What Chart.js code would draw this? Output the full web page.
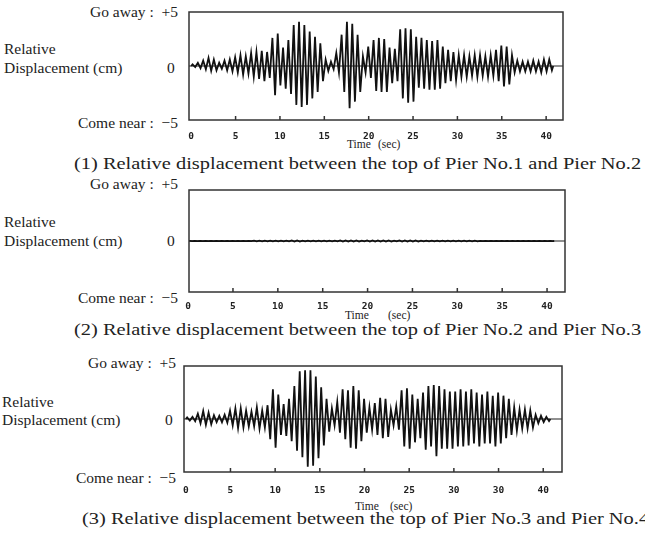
<!DOCTYPE html>
<html>
<head>
<meta charset="utf-8">
<script src="https://cdn.jsdelivr.net/npm/chart.js@4/dist/chart.umd.min.js"></script>
<style>
  body { margin: 0; background: #fff; }
  #page { position: relative; width: 645px; height: 536px; overflow: hidden; font-family: 'Liberation Serif', 'Times New Roman', serif; color: #222; }
  .lbl { position: absolute; white-space: pre; line-height: 1; font-size: 15.5px; }
  .r { text-align: right; }
  .time { font-size: 11.5px; }
  .cap { font-size: 17px; transform: scaleX(1.2); transform-origin: left center; }
  .box { position: absolute; }
</style>
</head>
<body>
<div id="page">
  <!-- panel 1 -->
  <div class="lbl r" style="right:467px; top:4px;">Go away :  +5</div>
  <div class="lbl" style="left:4px; top:41px;">Relative</div>
  <div class="lbl" style="left:4px; top:60px;">Displacement (cm)</div>
  <div class="lbl" style="left:167px; top:60px;">0</div>
  <div class="lbl r" style="right:467px; top:115px;">Come near :  −5</div>
  <div class="lbl time" style="left:347px; top:139px;">Time</div>
  <div class="lbl time" style="left:378px; top:139px;">(sec)</div>
  <div class="lbl cap" style="left:74px; top:155px;">(1) Relative displacement between the top of Pier No.1 and Pier No.2</div>
  <div class="box" style="left:169px; top:6px; width:414px; height:144px;"><canvas id="c1"></canvas></div>

  <!-- panel 2 -->
  <div class="lbl r" style="right:467px; top:176px;">Go away :  +5</div>
  <div class="lbl" style="left:4px; top:214px;">Relative</div>
  <div class="lbl" style="left:4px; top:233px;">Displacement (cm)</div>
  <div class="lbl" style="left:167px; top:233px;">0</div>
  <div class="lbl r" style="right:467px; top:290px;">Come near :  −5</div>
  <div class="lbl time" style="left:345px; top:310px;">Time</div>
  <div class="lbl time" style="left:388px; top:310px;">(sec)</div>
  <div class="lbl cap" style="left:74px; top:321px;">(2) Relative displacement between the top of Pier No.2 and Pier No.3</div>
  <div class="box" style="left:169px; top:184px; width:416px; height:138px;"><canvas id="c2"></canvas></div>

  <!-- panel 3 -->
  <div class="lbl r" style="right:469px; top:355px;">Go away :  +5</div>
  <div class="lbl" style="left:2px; top:394px;">Relative</div>
  <div class="lbl" style="left:2px; top:412px;">Displacement (cm)</div>
  <div class="lbl" style="left:165px; top:412px;">0</div>
  <div class="lbl r" style="right:469px; top:470px;">Come near :  −5</div>
  <div class="lbl time" style="left:355px; top:501px;">Time</div>
  <div class="lbl time" style="left:390px; top:501px;">(sec)</div>
  <div class="lbl cap" style="left:82px; top:510px;">(3) Relative displacement between the top of Pier No.3 and Pier No.4</div>
  <div class="box" style="left:164px; top:360px; width:418px; height:142px;"><canvas id="c3"></canvas></div>
</div>

<script>
// one oscillation cycle every 0.6 s; peak values per cycle (cm)
const cycleSec = 0.6;

const tickValues = [0, 5, 10, 15, 20, 25, 30, 35, 40];
const tickLabels1 = ['0', '5', '10', '15', '20', '25', '30', '35', '40'];
const tickLabels2 = ['0', '5', '10', '15', '20', '25', '30', '35', '40'];
const tickLabels3 = ['0', '5', '10', '15', '20', '25', '30', '30', '40'];

// Pier No.1 - No.2
const up1 = [0.15, 0.3, 0.5, 0.75, 0.6, 0.3, 0.5, 0.6, 0.8, 1.0, 0.9, 1.2, 1.3, 1.4, 1.3, 2.6, 3.0, 1.7, 2.4, 3.8,
  4.1, 3.8, 3.2, 2.7, 2.1, 0.6, 0.4, 1.2, 2.9, 4.1, 3.9, 2.9, 0.9, 1.8, 2.4, 2.6, 2.5, 1.7, 1.6, 3.4,
  3.5, 3.4, 2.7, 2.6, 2.4, 2.3, 2.4, 1.8, 1.5, 1.3, 1.0, 1.0, 0.9, 1.0, 1.0, 0.9, 1.0, 1.5, 1.9, 1.8,
  1.0, 0.5, 0.4, 0.4, 0.5, 0.4, 0.6, 0.6];
const down1 = [-0.1, -0.2, -0.3, -0.45, -0.4, -0.25, -0.4, -0.5, -0.6, -0.8, -0.7, -1.0, -1.2, -1.4, -1.1, -2.7, -1.8, -2.1, -2.6, -3.6,
  -3.8, -3.6, -3.0, -2.4, -1.4, -0.45, -0.3, -0.6, -2.4, -3.9, -3.3, -2.4, -0.6, -1.1, -2.3, -2.4, -2.4, -1.6, -1.4, -3.0,
  -3.4, -3.3, -2.0, -2.1, -2.2, -2.2, -2.1, -1.6, -1.4, -1.3, -1.0, -1.0, -0.9, -1.0, -0.9, -1.0, -0.9, -1.4, -1.9, -1.7,
  -0.6, -0.5, -0.5, -0.5, -0.5, -0.6, -0.5, -0.4];

// Pier No.2 - No.3 (almost flat)
const up2 = [0.01, 0.01, 0.01, 0.01, 0.01, 0.01, 0.02, 0.02, 0.02, 0.02, 0.02, 0.02, 0.03, 0.03, 0.03, 0.04, 0.04, 0.04, 0.04, 0.05,
  0.05, 0.04, 0.04, 0.04, 0.04, 0.03, 0.03, 0.04, 0.05, 0.06, 0.06, 0.05, 0.04, 0.05, 0.06, 0.06, 0.06, 0.05, 0.04, 0.05,
  0.06, 0.06, 0.05, 0.04, 0.04, 0.04, 0.03, 0.03, 0.03, 0.03, 0.03, 0.03, 0.03, 0.03, 0.02, 0.02, 0.02, 0.02, 0.02, 0.02,
  0.02, 0.02, 0.01, 0.01, 0.01, 0.01, 0.01, 0.01];
const down2 = [-0.01, -0.01, -0.01, -0.01, -0.01, -0.01, -0.02, -0.02, -0.02, -0.02, -0.02, -0.02, -0.03, -0.03, -0.03, -0.04, -0.04, -0.04, -0.04, -0.05,
  -0.05, -0.04, -0.04, -0.04, -0.04, -0.03, -0.03, -0.04, -0.05, -0.06, -0.06, -0.05, -0.04, -0.05, -0.06, -0.06, -0.06, -0.05, -0.04, -0.05,
  -0.06, -0.06, -0.05, -0.04, -0.04, -0.04, -0.03, -0.03, -0.03, -0.03, -0.03, -0.03, -0.03, -0.03, -0.02, -0.02, -0.02, -0.02, -0.02, -0.02,
  -0.02, -0.02, -0.01, -0.01, -0.01, -0.01, -0.01, -0.01];

// Pier No.3 - No.4
const up3 = [0.15, 0.2, 0.5, 0.75, 0.6, 0.35, 0.3, 0.4, 0.8, 1.0, 1.0, 0.8, 0.7, 1.1, 0.8, 1.3, 2.8, 2.3, 1.4, 1.9,
  3.1, 4.5, 4.6, 4.6, 4.0, 3.0, 1.9, 1.0, 1.6, 2.8, 2.7, 3.1, 2.7, 1.9, 1.1, 1.5, 2.0, 1.9, 0.9, 1.2,
  2.7, 2.9, 2.3, 1.9, 2.5, 3.1, 3.2, 3.1, 2.8, 2.6, 2.6, 2.8, 2.6, 2.8, 2.5, 2.3, 2.6, 2.2, 2.5, 2.2,
  1.9, 1.1, 0.9, 0.9, 0.8, 0.4, 0.3, 0.2];
const down3 = [-0.15, -0.2, -0.4, -0.55, -0.5, -0.3, -0.3, -0.35, -0.6, -0.85, -0.8, -0.7, -0.7, -0.9, -0.8, -1.9, -2.7, -1.5, -1.6, -2.1,
  -3.0, -3.6, -4.5, -4.4, -3.7, -2.5, -1.2, -0.6, -1.3, -1.9, -2.7, -2.8, -2.1, -1.3, -1.0, -1.5, -1.8, -1.7, -0.6, -1.0,
  -2.6, -2.8, -2.2, -1.8, -2.9, -2.6, -3.5, -2.8, -2.8, -2.8, -2.6, -2.6, -2.5, -2.3, -2.6, -2.3, -2.3, -2.6, -2.3, -1.8,
  -1.5, -1.1, -0.9, -0.9, -0.8, -0.4, -0.3, -0.2];

function toPoints(up, down) {
  const pts = [{ x: 0, y: 0 }];
  for (let i = 0; i < up.length; i++) {
    pts.push({ x: i * cycleSec + cycleSec / 4, y: up[i] });
    pts.push({ x: i * cycleSec + cycleSec * 3 / 4, y: down[i] });
  }
  pts.push({ x: up.length * cycleSec, y: 0 });
  return pts;
}

// frame, zero line and inward tick marks
const framePlugin = {
  id: 'frame',
  beforeDatasetsDraw(chart) {
    const { ctx, chartArea: a, scales } = chart;
    const y0 = scales.y.getPixelForValue(0);
    ctx.save();
    ctx.strokeStyle = '#222';
    ctx.lineWidth = 1.2;
    ctx.beginPath();
    ctx.moveTo(a.left, y0);
    ctx.lineTo(a.right, y0);
    ctx.stroke();
    ctx.restore();
  },
  afterDraw(chart) {
    const { ctx, chartArea: a, scales } = chart;
    ctx.save();
    ctx.strokeStyle = '#333';
    ctx.lineWidth = 1.5;
    ctx.strokeRect(a.left, a.top, a.right - a.left, a.bottom - a.top);
    scales.x.ticks.forEach(t => {
      if (t.value <= 0) return;
      const x = scales.x.getPixelForValue(t.value);
      ctx.beginPath();
      ctx.moveTo(x, a.bottom);
      ctx.lineTo(x, a.bottom - 4);
      ctx.stroke();
    });
    ctx.restore();
  }
};

function makeChart(id, up, down, labels, xMin, xMax, tickPad) {
  new Chart(document.getElementById(id), {
    type: 'line',
    data: {
      datasets: [{
        data: toPoints(up, down),
        borderColor: '#111',
        borderWidth: 1.8,
        pointRadius: 0,
        tension: 0
      }]
    },
    options: {
      responsive: true,
      maintainAspectRatio: false,
      animation: false,
      layout: { padding: { left: 20, right: 20, top: 6, bottom: 0 } },
      plugins: { legend: { display: false }, tooltip: { enabled: false } },
      scales: {
        x: {
          type: 'linear',
          min: xMin,
          max: xMax,
          afterBuildTicks: s => { s.ticks = tickValues.map(v => ({ value: v })); },
          afterFit: s => { s.height = 30; },
          grid: { display: false, drawTicks: false },
          border: { display: false },
          ticks: {
            autoSkip: false,
            maxRotation: 0,
            padding: tickPad,
            color: '#222',
            font: { family: 'DejaVu Sans Mono', weight: 'bold', size: 9.5 },
            callback: (v, i) => labels[i]
          }
        },
        y: {
          display: false,
          min: -5,
          max: 5
        }
      }
    },
    plugins: [framePlugin]
  });
}

makeChart('c1', up1, down1, tickLabels1, -0.25, 41.9, 11);
makeChart('c2', up2, down2, tickLabels2, 0.1, 42.0, 9);
makeChart('c3', up3, down3, tickLabels3, -0.2, 42.1, 13);
</script>
</body>
</html>
